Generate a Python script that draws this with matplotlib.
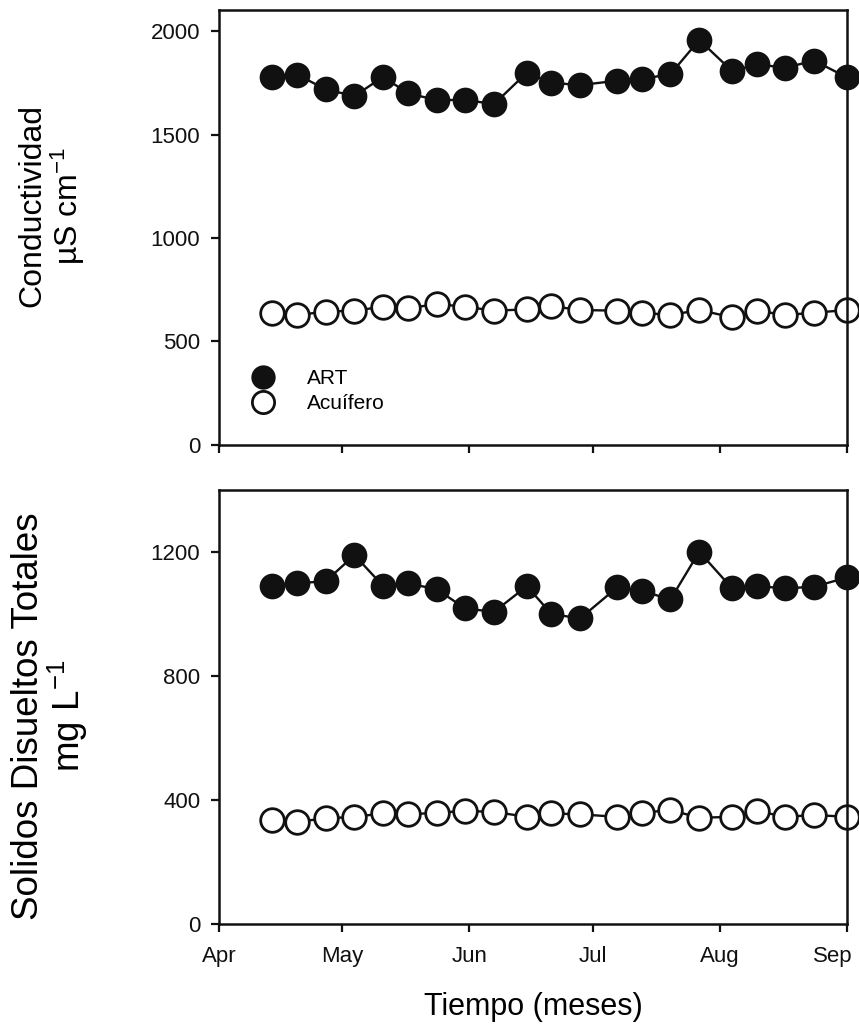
import pandas as pd
import matplotlib
matplotlib.use('Agg')
import matplotlib.pyplot as plt
import matplotlib.dates as mdates
from matplotlib.lines import Line2D
from matplotlib.transforms import ScaledTranslation

# sampling dates (roughly weekly)
fechas = ['2010-04-14', '2010-04-20', '2010-04-27', '2010-05-04', '2010-05-11',
          '2010-05-17', '2010-05-24', '2010-05-31', '2010-06-07', '2010-06-15',
          '2010-06-21', '2010-06-28', '2010-07-07', '2010-07-13', '2010-07-20',
          '2010-07-27', '2010-08-04', '2010-08-10', '2010-08-17', '2010-08-24',
          '2010-09-01']

cond_art = [1780, 1790, 1718, 1686, 1779, 1699, 1667, 1667, 1647, 1799, 1750,
            1739, 1760, 1768, 1792, 1957, 1807, 1839, 1823, 1857, 1776]
cond_acuifero = [636, 628, 644, 649, 668, 660, 681, 668, 649, 655, 671,
                 652, 649, 639, 628, 652, 617, 649, 628, 639, 652]

sdt_art = [1090, 1099, 1106, 1190, 1090, 1099, 1080, 1018, 1007, 1090, 1000,
           986, 1086, 1075, 1047, 1201, 1083, 1090, 1083, 1088, 1118]
sdt_acuifero = [335, 330, 341, 346, 357, 354, 359, 365, 362, 346, 357,
                354, 346, 359, 368, 343, 346, 365, 346, 352, 346]

x = pd.to_datetime(fechas)

plt.rcParams['font.family'] = ['Liberation Sans', 'DejaVu Sans']
plt.rcParams['mathtext.fontset'] = 'custom'
plt.rcParams['mathtext.rm'] = 'Liberation Sans'
plt.rcParams['mathtext.default'] = 'regular'

fig = plt.figure(figsize=(8.59, 10.36), dpi=100)
ax1 = fig.add_axes([0.255, 0.5705, 0.731, 0.4195])
ax2 = fig.add_axes([0.255, 0.108, 0.731, 0.419])

art_style = dict(color='#111111', lw=1.7, marker='o', markersize=17,
                 markerfacecolor='#111111', markeredgecolor='#111111', markeredgewidth=1.5)
acu_style = dict(color='#111111', lw=1.7, marker='o', markersize=17,
                 markerfacecolor='white', markeredgecolor='#111111', markeredgewidth=2.0)

ax1.plot(x, cond_art, **art_style)
ax1.plot(x, cond_acuifero, **acu_style)
ax2.plot(x, sdt_art, **art_style)
ax2.plot(x, sdt_acuifero, **acu_style)

ax1.set_ylim(0, 2100)
ax1.set_yticks([0, 500, 1000, 1500, 2000])
ax2.set_ylim(0, 1400)
ax2.set_yticks([0, 400, 800, 1200])

for ax in (ax1, ax2):
    ax.set_xlim(pd.Timestamp('2010-04-01'), pd.Timestamp('2010-09-01'))
    ax.xaxis.set_major_locator(mdates.MonthLocator())
    ax.xaxis.set_major_formatter(mdates.DateFormatter('%b'))
    ax.tick_params(direction='out', length=5.5, width=1.6, labelsize=16, pad=8,
                   top=False, right=False, colors='#111111')
    for s in ax.spines.values():
        s.set_linewidth(1.8)
        s.set_color('#111111')
    for ln in ax.lines:
        ln.set_clip_on(False)

ax1.tick_params(labelbottom=False)
ax2.tick_params(axis='x', pad=10)

# keep the last month label inside the figure
fig.canvas.draw()
last = ax2.get_xticklabels()[-1]
last.set_transform(last.get_transform() + ScaledTranslation(-10 / 72, 0, fig.dpi_scale_trans))

ax1.set_ylabel('Conductividad\nµS cm$^{-1}$', fontsize=23, linespacing=1.05)
ax2.set_ylabel('Solidos Disueltos Totales\nmg L$^{-1}$', fontsize=26.5, linespacing=1.0)
ax1.yaxis.set_label_coords(-0.21, 0.55)
ax2.yaxis.set_label_coords(-0.205, 0.48)

ax2.set_xlabel('Tiempo (meses)', fontsize=22, labelpad=18)

# legend with markers only
h_art = Line2D([], [], ls='none', marker='o', markersize=16,
               markerfacecolor='#111111', markeredgecolor='#111111', markeredgewidth=1.5)
h_acu = Line2D([], [], ls='none', marker='o', markersize=16,
               markerfacecolor='white', markeredgecolor='#111111', markeredgewidth=2.0)
ax1.legend([h_art, h_acu], ['ART', 'Acuífero'], loc='lower left',
           bbox_to_anchor=(0.02, 0.03), frameon=False, fontsize=15,
           handlelength=1.2, handletextpad=1.5, labelspacing=0.3, borderaxespad=0.5)

plt.savefig('out.png', dpi=100)
